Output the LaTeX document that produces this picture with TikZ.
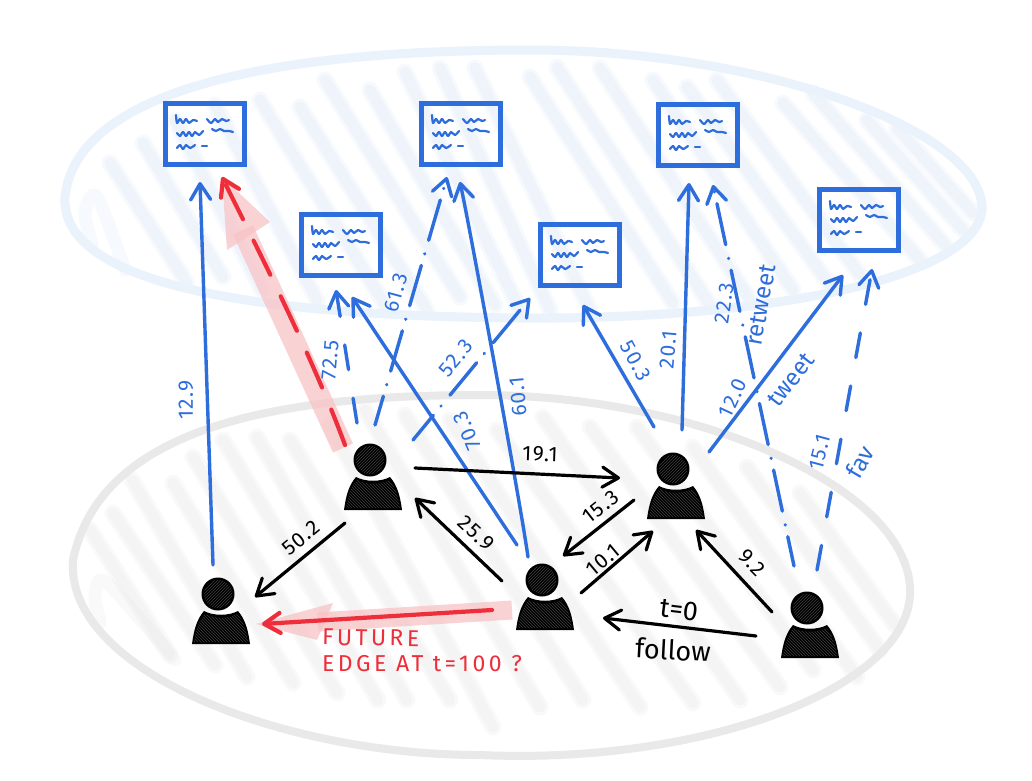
\documentclass[tikz,border=0pt]{standalone}
\usepackage{fontspec}
\setmainfont{Fira Sans}
\newfontfamily\redfont[LetterSpace=15]{Fira Sans}
\newfontfamily\numfont[LetterSpace=7]{Fira Sans}
\usetikzlibrary{arrows.meta,calc,patterns}
\definecolor{skblue}{HTML}{2D6DDC}
\definecolor{skred}{HTML}{EE2F3B}
\definecolor{halo}{HTML}{F8C3C6}
\definecolor{paleblue}{HTML}{EAF2FC}
\definecolor{stripeblue}{HTML}{DCE8F8}
\definecolor{palegrey}{HTML}{E9E9E9}
\definecolor{stripegrey}{HTML}{E6E6E6}
\tikzset{
  barbtip/.style={-{Straight Barb[length=16pt,width=20pt,round]}},
  edge/.style={draw=black,line width=3.2pt,line cap=round,barbtip},
  bedge/.style={draw=skblue,line width=3.4pt,line cap=round,barbtip},
  redge/.style={draw=skred,line width=4.2pt,line cap=round,barbtip},
  longdash/.style={dash pattern=on 25pt off 29pt},
  dotdash/.style={dash pattern=on 42pt off 12pt on 0.1pt off 14pt},
  blab/.style={text=skblue,font=\fontsize{21}{21}\selectfont\numfont,inner sep=0pt},
  wlab/.style={text=skblue,font=\fontsize{24}{24}\selectfont,inner sep=0pt},
  klab/.style={text=black,font=\fontsize{21}{21}\selectfont\numfont,inner sep=0pt},
  flab/.style={text=black,font=\fontsize{27}{27}\selectfont,inner sep=0pt},
  rlab/.style={text=skred,font=\fontsize{23}{23}\selectfont\redfont,inner sep=0pt,anchor=west},
  tweetbox/.style={draw=skblue,line width=5pt,minimum width=79pt,minimum height=61pt,inner sep=0pt},
  head/.style={circle,fill=black,minimum size=33pt,inner sep=0pt},
  squig/.style={draw=skblue,line width=2.2pt,line cap=round,line join=round},
  softblue/.style={stripeblue,opacity=.24,line cap=round},
  softgrey/.style={stripegrey,opacity=.22,line cap=round},
  bodyshape/.pic={
    \path[fill=black] (-26,50) .. controls (-24,35) and (-21,25) .. (-14,17) .. controls (-5,22) and (11,22) .. (20,17) .. controls (27,25) and (30,35) .. (32,50) -- cycle;
    \path[pattern=north west lines,pattern color=black!75!white] (-24,48) .. controls (-22,35) and (-19,27) .. (-13,20) .. controls (-5,25) and (11,25) .. (19,20) .. controls (25,27) and (28,35) .. (30,48) -- cycle;
  },
  tweettext/.pic={
    \draw[squig] plot[smooth] coordinates {(-29,-19) (-28,-11) (-25,-15) (-22,-11) (-19,-15) (-16,-11) (-12,-14) (-8,-13)};
    \draw[squig] plot[smooth] coordinates {(2,-15) (6,-11) (10,-15) (13,-12) (17,-15) (21,-13) (24,-14)};
    \draw[squig] plot[smooth] coordinates {(-28,-1) (-25,2) (-22,-2) (-19,2) (-16,-2) (-13,2) (-10,-2) (-6,1) (-2,-3)};
    \draw[squig] plot[smooth] coordinates {(7,-5) (11,-3) (15,-5) (19,-3) (24,-3) (28,-2)};
    \draw[squig] plot[smooth] coordinates {(-28,14) (-25,11) (-22,15) (-19,11) (-15,14) (-10,11)};
    \draw[squig] (-3,12) -- (2,12);
  }
}
\begin{document}
\begin{tikzpicture}[x=1pt,y=-1pt]
\useasboundingbox (0,0) rectangle (1032,780);
\fill[white] (0,0) rectangle (1032,780);
% upper plane
\foreach \xa/\ya/\xb/\yb in {110/163/187/283,143/143/223/277,175/120/262/290,215/105/317/300,260/100/385/305,300/107/427/310,325/80/460/297,370/90/495/305,405/72/520/310,440/68/550/310,475/68/590/310,530/77/673/303,557/67/710/305,600/68/750/300,653/80/793/290,687/87/830/285,717/80/860/275,783/103/920/260,813/93/945/245,867/120/963/230,897/128/973/213} {
  \draw[softblue,line width=17pt] (\xa,\ya) -- (\xb,\yb);
  \draw[softblue,line width=11pt] (\xa,\ya) -- (\xb,\yb);
}
\draw[softblue,line width=13pt,line join=round] plot[smooth] coordinates {(92,245) (85,212) (97,197) (125,270)};
\draw[paleblue,line width=9pt] (65,197) .. controls (75,100) and (240,50) .. (530,50) .. controls (760,50) and (985,130) .. (982,210) .. controls (975,280) and (760,320) .. (520,318) .. controls (280,316) and (60,290) .. (65,197) -- cycle;
% lower plane
\foreach \xa/\ya/\xb/\yb in {90/530/170/655,113/513/215/665,132/480/247/677,173/483/293/683,193/457/337/693,223/440/378/700,257/437/407/700,290/440/450/700,330/425/493/727,365/410/540/707,405/415/583/700,450/420/640/707,497/430/693/703,543/417/740/700,590/427/780/687,637/427/813/670,693/447/857/677,747/467/880/650,800/493/895/625} {
  \draw[softgrey,line width=17pt] (\xa,\ya) -- (\xb,\yb);
  \draw[softgrey,line width=11pt] (\xa,\ya) -- (\xb,\yb);
}
\draw[softgrey,line width=13pt] plot[smooth] coordinates {(100,622) (95,595) (107,583) (175,660)};
\draw[palegrey,line width=8pt] (73,560) .. controls (100,430) and (270,395) .. (480,395) .. controls (700,395) and (915,490) .. (910,595) .. controls (905,690) and (700,765) .. (480,755) .. controls (280,755) and (65,670) .. (73,560) -- cycle;
% nodes
\node[tweetbox] (t1) at (205,134) {};
\node[tweetbox] (t2) at (341,245) {};
\node[tweetbox] (t3) at (461,134) {};
\node[tweetbox] (t4) at (698,135) {};
\node[tweetbox] (t5) at (580,255) {};
\node[tweetbox] (t6) at (859,220) {};
\foreach \n in {t1,t2,t3,t4,t5,t6} \pic at (\n) {tweettext};
\coordinate (u1) at (218,594);
\coordinate (u2) at (370,460);
\coordinate (u3) at (542,580);
\coordinate (u4) at (673,469);
\coordinate (u5) at (807,608);
% red halos
\draw[halo,line width=22pt,opacity=.75] ($(u2)+(-27,-12)$) -- ($(t1)+(38,96)$);
\fill[halo,opacity=.75] ($(t1)+(17,43)$) -- ($(t1)+(22,116)$) -- ($(t1)+(65,88)$) -- cycle;
\draw[halo,line width=19pt,opacity=.75] ($(u3)+(-30,30)$) -- ($(u1)+(100,28)$);
\fill[halo,opacity=.75] ($(u1)+(38,30)$) -- ($(u1)+(115,9)$) -- ($(u1)+(99,46)$) -- cycle;
% blue connectors
\draw[bedge] ($(u1)+(-5,-29)$) -- ($(t1)+(-5,48)$);
\draw[bedge,longdash] ($(u2)+(-13,-37)$) -- ($(t2)+(-5,45)$);
\draw[bedge,dotdash,dash phase=12pt] ($(u2)+(5,-35)$) -- ($(t3)+(-14,43)$);
\draw[bedge] ($(u3)+(-25,-35)$) -- ($(t2)+(11,52)$);
\draw[bedge] ($(u3)+(-14,-23)$) .. controls ($(u3)+(-22,-80)$) and ($(t3)+(8,90)$) .. ($(t3)+(-1,48)$);
\draw[bedge,dotdash,dash phase=10pt] ($(u2)+(43,-20)$) -- ($(t5)+(-50,43)$);
\draw[bedge] ($(u4)+(-19,-42)$) -- ($(t5)+(3,50)$);
\draw[bedge] ($(u4)+(9,-39)$) -- ($(t4)+(-9,48)$);
\draw[bedge] ($(u4)+(36,-17)$) -- ($(t6)+(-16,55)$);
\draw[bedge,dotdash,dash phase=12pt] ($(u5)+(-13,-42)$) -- ($(t4)+(15,50)$);
\draw[bedge,longdash] ($(u5)+(10,-38)$) -- ($(t6)+(13,49)$);
% black connectors
\draw[edge] ($(u2)+(-25,63)$) -- ($(u1)+(37,3)$);
\draw[edge] ($(u2)+(45,8)$) -- ($(u4)+(-53,9)$);
\draw[edge] ($(u3)+(-40,1)$) -- ($(u2)+(45,38)$);
\draw[edge] ($(u4)+(-39,31)$) -- ($(u3)+(21,-24)$);
\draw[edge] ($(u3)+(39,13)$) -- ($(u4)+(-20,62)$);
\draw[edge] ($(u5)+(-35,4)$) -- ($(u4)+(23,61)$);
\draw[edge] ($(u5)+(-51,28)$) -- ($(u3)+(61,38)$);
% red connectors
\draw[redge,dash pattern=on 38pt off 24pt] ($(u2)+(-25,-15)$) .. controls ($(u2)+(-60,-110)$) and ($(t1)+(45,100)$) .. ($(t1)+(17,43)$);
\draw[redge] ($(u3)+(-50,30)$) -- ($(u1)+(44,30)$);
% persons
\foreach \u in {u1,u2,u3,u4,u5} {
  \pic at (\u) {bodyshape};
  \node[head] (h\u) at (\u) {};
  \path[pattern=north east lines,pattern color=black!75!white] (\u) circle[radius=14pt];
}
% labels
\node[blab,rotate=90] (l1) at (186,400) {12.9};
\node[blab,rotate=85] (l2) at (330,360) {72.5};
\node[blab,rotate=75] (l3) at (396,293) {61.3};
\node[blab,rotate=50] (l4) at (456,358) {52.3};
\node[blab,rotate=113] (l5) at (467,431) {70.3};
\node[blab,rotate=95] (l6) at (518,397) {60.1};
\node[blab,rotate=-62] (l7) at (636,361) {50.3};
\node[blab,rotate=85] (l8) at (668,350) {20.1};
\node[blab,rotate=82] (l9) at (724,303) {22.3};
\node[wlab,rotate=80] (l10) at (761,305) {retweet};
\node[blab,rotate=65] (l11) at (733,398) {12.0};
\node[wlab,rotate=52] (l12) at (791,380) {tweet};
\node[blab,rotate=75] (l13) at (820,452) {15.1};
\node[wlab,rotate=60] (l14) at (860,462) {fav};
\node[klab,rotate=-2] (k1) at (540,454) {19.1};
\node[klab,rotate=39] (k2) at (301,538) {50.2};
\node[klab,rotate=-43] (k3) at (476,533) {25.9};
\node[klab,rotate=38] (k4) at (601,507) {15.3};
\node[klab,rotate=40] (k5) at (603,560) {10.1};
\node[klab,rotate=-45] (k6) at (752,563) {9.2};
\node[flab,rotate=-7] (k7) at (679,610) {t=0};
\node[flab,rotate=-3] (k8) at (673,650) {follow};
\node[rlab,rotate=-1] (r1) at (322,637) {FUTURE};
\node[rlab] (r2) at (322,664) {EDGE AT t=100 ?};
\end{tikzpicture}
\end{document}
